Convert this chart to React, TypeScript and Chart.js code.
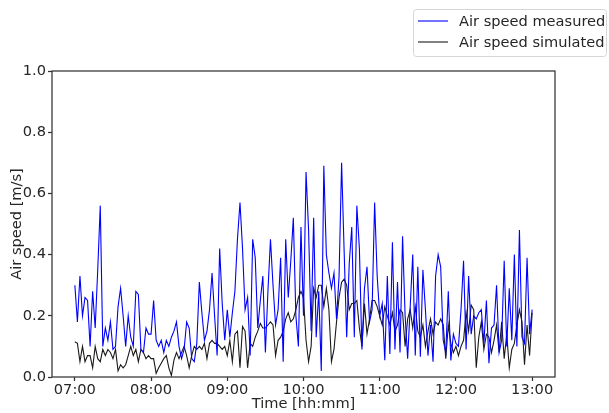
import React, { useEffect, useRef } from 'react';
import { Chart, registerables } from 'chart.js';

Chart.register(...registerables);

// Sampling: one value every 2 minutes starting at 07:00 (minutes after 07:00)
const START_HOUR = 7;
const STEP_MIN = 2;

const tickLabels = ['07:00', '08:00', '09:00', '10:00', '11:00', '12:00', '13:00'];
const tickMinutes = [0, 60, 120, 180, 240, 300, 360];

const measured = [
  0.30, 0.18, 0.33, 0.20, 0.26, 0.25, 0.10, 0.28, 0.16, 0.35, 0.56, 0.10, 0.16, 0.12, 0.18, 0.09,
  0.10, 0.23, 0.29, 0.20, 0.10, 0.20, 0.13, 0.10, 0.28, 0.27, 0.09, 0.08, 0.16, 0.14, 0.14,
  0.25, 0.12, 0.10, 0.12, 0.08, 0.12, 0.10, 0.13, 0.15, 0.18, 0.10, 0.06, 0.09,
  0.18, 0.16, 0.06, 0.05, 0.11, 0.31, 0.21, 0.12, 0.15, 0.22, 0.34, 0.20, 0.07, 0.42, 0.24, 0.12,
  0.22, 0.13, 0.21, 0.28, 0.45, 0.57, 0.42, 0.22, 0.26, 0.07, 0.45, 0.39, 0.16, 0.25, 0.33, 0.08,
  0.28, 0.45, 0.30, 0.17, 0.22, 0.39, 0.05, 0.45, 0.26, 0.38, 0.52, 0.20, 0.10, 0.49,
  0.20, 0.67, 0.48, 0.15, 0.52, 0.13, 0.28, 0.02, 0.69, 0.40, 0.34, 0.29, 0.34, 0.19, 0.33, 0.70,
  0.41, 0.13, 0.37, 0.49, 0.13, 0.56, 0.42, 0.09, 0.29, 0.36, 0.18, 0.22, 0.57, 0.33, 0.20, 0.24,
  0.055, 0.33, 0.075, 0.44, 0.09, 0.31, 0.08, 0.46, 0.20, 0.06, 0.23, 0.40, 0.07, 0.36,
  0.066, 0.35, 0.22, 0.07, 0.17, 0.05, 0.33, 0.40, 0.36, 0.12, 0.08, 0.28, 0.054, 0.14, 0.11, 0.10,
  0.22, 0.38, 0.09, 0.33, 0.14, 0.20, 0.19, 0.21, 0.22, 0.11, 0.25, 0.045, 0.16, 0.17, 0.30, 0.08,
  0.12, 0.38, 0.10, 0.29, 0.12, 0.40, 0.10, 0.48, 0.13, 0.11, 0.39, 0.14, 0.22,
];

const simulated = [
  0.115, 0.11, 0.05, 0.10, 0.05, 0.07, 0.07, 0.03, 0.10, 0.06, 0.05, 0.09, 0.07, 0.09, 0.08, 0.06,
  0.09, 0.02, 0.04, 0.03, 0.04, 0.07, 0.10, 0.07, 0.09, 0.05, 0.09, 0.08, 0.06, 0.07, 0.06,
  0.06, 0.012, 0.03, 0.045, 0.06, 0.07, 0.03, 0.005, 0.055, 0.08, 0.06, 0.08, 0.10,
  0.07, 0.03, 0.07, 0.10, 0.09, 0.10, 0.09, 0.11, 0.06, 0.11, 0.12, 0.11, 0.11, 0.10, 0.09, 0.10,
  0.07, 0.12, 0.05, 0.14, 0.15, 0.03, 0.165, 0.15, 0.03, 0.11, 0.10, 0.13, 0.15, 0.175, 0.16, 0.16,
  0.17, 0.18, 0.17, 0.07, 0.12, 0.13, 0.15, 0.19, 0.21, 0.18, 0.19, 0.22, 0.26, 0.28,
  0.26, 0.12, 0.05, 0.10, 0.29, 0.26, 0.30, 0.30, 0.23, 0.29, 0.22, 0.05, 0.09, 0.18, 0.26, 0.31,
  0.32, 0.30, 0.22, 0.24, 0.24, 0.25, 0.16, 0.10, 0.24, 0.14, 0.19, 0.25, 0.25, 0.23, 0.20, 0.17,
  0.23, 0.20, 0.17, 0.21, 0.15, 0.17, 0.22, 0.21, 0.10, 0.19, 0.22, 0.16, 0.23, 0.15,
  0.13, 0.17, 0.10, 0.15, 0.19, 0.14, 0.18, 0.17, 0.19, 0.17, 0.06, 0.17, 0.11, 0.08, 0.10, 0.07,
  0.10, 0.12, 0.21, 0.15, 0.235, 0.22, 0.03, 0.13, 0.18, 0.09, 0.14, 0.13, 0.08, 0.12, 0.17, 0.08,
  0.18, 0.06, 0.14, 0.03, 0.09, 0.11, 0.17, 0.22, 0.18, 0.04, 0.17, 0.07, 0.21,
];

const yTicks = [0, 0.2, 0.4, 0.6, 0.8, 1.0];

const FONT = "'DejaVu Sans', sans-serif";
const FONT_SIZE = 14.6;
const TEXT = '#262626';
const AXIS = '#333333';

const toPoints = (vals: number[]) => vals.map((v, i) => ({ x: i * STEP_MIN, y: v }));

const mplPlugin = {
  id: 'mplFrameLegend',
  afterDraw(chart: any) {
    const { ctx, chartArea: a } = chart;
    ctx.save();
    ctx.strokeStyle = AXIS;
    ctx.lineWidth = 1.25;
    ctx.strokeRect(a.left, a.top, a.right - a.left, a.bottom - a.top);

    // legend box (outside the plot, top right)
    const bx = 413.5, by = 9.5, bw = 193, bh = 47, r = 3;
    ctx.beginPath();
    ctx.moveTo(bx + r, by);
    ctx.lineTo(bx + bw - r, by);
    ctx.arcTo(bx + bw, by, bx + bw, by + r, r);
    ctx.lineTo(bx + bw, by + bh - r);
    ctx.arcTo(bx + bw, by + bh, bx + bw - r, by + bh, r);
    ctx.lineTo(bx + r, by + bh);
    ctx.arcTo(bx, by + bh, bx, by + bh - r, r);
    ctx.lineTo(bx, by + r);
    ctx.arcTo(bx, by, bx + r, by, r);
    ctx.closePath();
    ctx.fillStyle = 'rgba(255,255,255,0.8)';
    ctx.fill();
    ctx.strokeStyle = '#d6d6d6';
    ctx.lineWidth = 1;
    ctx.stroke();

    const items = chart.data.datasets.map((d: any) => ({ label: d.label, color: d.borderColor }));
    const rowsY = [21, 42];
    ctx.font = `${FONT_SIZE}px ${FONT}`;
    ctx.textBaseline = 'middle';
    ctx.textAlign = 'left';
    items.forEach((it: any, i: number) => {
      const y = rowsY[i];
      ctx.strokeStyle = it.color;
      ctx.lineWidth = 1.1;
      ctx.beginPath();
      ctx.moveTo(418, y);
      ctx.lineTo(448, y);
      ctx.stroke();
      ctx.fillStyle = TEXT;
      ctx.fillText(it.label, 459, y + 1);
    });
    ctx.restore();
  },
};

export default function App() {
  const ref = useRef<HTMLCanvasElement | null>(null);

  useEffect(() => {
    if (!ref.current) return;
    const chart = new Chart(ref.current, {
      type: 'line',
      data: {
        datasets: [
          {
            label: 'Air speed measured',
            data: toPoints(measured),
            borderColor: '#0000ff',
            borderWidth: 1.1,
            pointRadius: 0,
            tension: 0,
          },
          {
            label: 'Air speed simulated',
            data: toPoints(simulated),
            borderColor: '#1a1a1a',
            borderWidth: 1.1,
            pointRadius: 0,
            tension: 0,
          },
        ],
      },
      options: {
        animation: false,
        responsive: false,
        maintainAspectRatio: false,
        layout: { padding: { top: 71, right: 54, left: 0, bottom: 0 } },
        plugins: { legend: { display: false }, tooltip: { enabled: false } },
        scales: {
          x: {
            type: 'linear',
            min: -18,
            max: 378,
            afterBuildTicks: (scale: any) => {
              scale.ticks = tickMinutes.map((v) => ({ value: v }));
            },
            afterFit: (scale: any) => {
              scale.height = 36;
            },
            border: { display: false },
            grid: {
              drawOnChartArea: false,
              drawTicks: true,
              tickLength: 4,
              tickColor: AXIS,
              tickWidth: 1.25,
            },
            ticks: {
              autoSkip: false,
              maxRotation: 0,
              padding: 0,
              color: TEXT,
              font: { family: FONT, size: FONT_SIZE },
              callback: (v: any) => {
                const idx = tickMinutes.indexOf(Number(v));
                if (idx >= 0) return tickLabels[idx];
                const h = START_HOUR + Math.floor(Number(v) / 60);
                return String(h).padStart(2, '0') + ':00';
              },
            },
            title: {
              display: true,
              text: 'Time [hh:mm]',
              color: TEXT,
              font: { family: FONT, size: FONT_SIZE },
              padding: { top: 0, bottom: 0 },
            },
          },
          y: {
            type: 'linear',
            min: 0,
            max: 1,
            afterBuildTicks: (scale: any) => {
              scale.ticks = yTicks.map((v) => ({ value: v }));
            },
            afterFit: (scale: any) => {
              scale.width = 52;
            },
            border: { display: false },
            grid: {
              drawOnChartArea: false,
              drawTicks: true,
              tickLength: 4,
              tickColor: AXIS,
              tickWidth: 1.25,
            },
            ticks: {
              padding: 2,
              color: TEXT,
              font: { family: FONT, size: FONT_SIZE },
              callback: (v: any) => Number(v).toFixed(1),
            },
            title: {
              display: true,
              text: 'Air speed [m/s]',
              color: TEXT,
              font: { family: FONT, size: FONT_SIZE },
              padding: { top: 8, bottom: 0 },
            },
          },
        },
      },
      plugins: [mplPlugin],
    });
    return () => chart.destroy();
  }, []);

  return (
    <div style={{ position: 'fixed', left: 0, top: 0, width: 609, height: 413, background: '#fff' }}>
      <canvas ref={ref} width={609} height={413} style={{ width: 609, height: 413, display: 'block' }} />
    </div>
  );
}
